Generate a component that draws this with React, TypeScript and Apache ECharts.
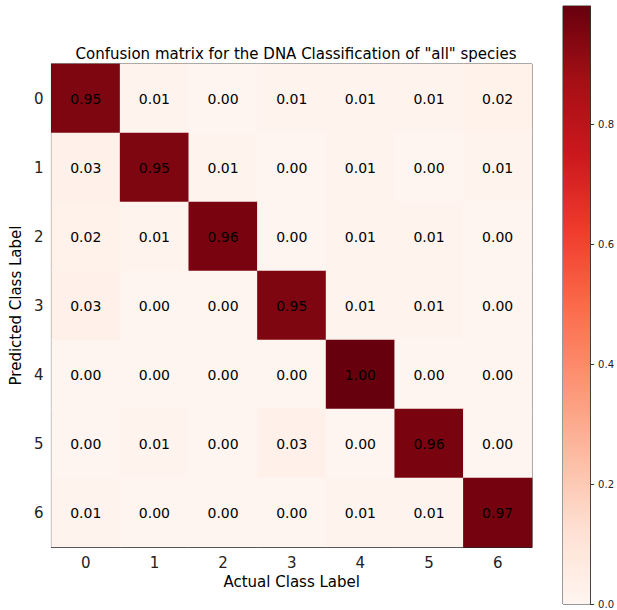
import React, { useEffect, useRef } from "react";
import * as echarts from "echarts";

const actualLabels = ["0", "1", "2", "3", "4", "5", "6"];
const predictedLabels = ["0", "1", "2", "3", "4", "5", "6"];

const row0 = [0.95, 0.01, 0.0, 0.01, 0.01, 0.01, 0.02];
const row1 = [0.03, 0.95, 0.01, 0.0, 0.01, 0.0, 0.01];
const row2 = [0.02, 0.01, 0.96, 0.0, 0.01, 0.01, 0.0];
const row3 = [0.03, 0.0, 0.0, 0.95, 0.01, 0.01, 0.0];
const row4 = [0.0, 0.0, 0.0, 0.0, 1.0, 0.0, 0.0];
const row5 = [0.0, 0.01, 0.0, 0.03, 0.0, 0.96, 0.0];
const row6 = [0.01, 0.0, 0.0, 0.0, 0.01, 0.01, 0.97];
const matrix = [row0, row1, row2, row3, row4, row5, row6];

const colorbarTicks = [0, 0.2, 0.4, 0.6, 0.8];
const colorMin = 0;
const colorMax = 0.997;

const reds = [
  "#fff5f0",
  "#fee0d2",
  "#fcbba1",
  "#fc9272",
  "#fb6a4a",
  "#ef3b2c",
  "#cb181d",
  "#a50f15",
  "#67000d",
];

const FONT = "DejaVu Sans";

export default function App() {
  const ref = useRef<HTMLDivElement>(null);
  useEffect(() => {
    if (!ref.current) return;
    const chart = echarts.init(ref.current, undefined, { renderer: "svg" });
    const data: [number, number, number][] = [];
    matrix.forEach((row, r) => row.forEach((v, c) => data.push([c, r, v])));

    const option: any = {
      animation: false,
      backgroundColor: "#ffffff",
      textStyle: { fontFamily: FONT },
      title: {
        text: 'Confusion matrix for the DNA Classification of "all" species',
        left: 291,
        textAlign: "center",
        top: 41,
        textStyle: { fontFamily: FONT, fontSize: 15, fontWeight: "normal", color: "#000" },
      },
      grid: [
        {
          left: 50,
          top: 64,
          width: 482,
          height: 483,
          show: true,
          borderColor: "#222",
          borderWidth: 1,
          backgroundColor: "transparent",
        },
        {
          left: 563,
          top: 6,
          width: 30,
          height: 598,
          show: true,
          borderColor: "#333",
          borderWidth: 1,
          backgroundColor: "transparent",
        },
      ],
      visualMap: {
        show: false,
        type: "continuous",
        min: colorMin,
        max: colorMax,
        seriesIndex: 0,
        dimension: 2,
        inRange: { color: reds },
      },
      xAxis: [
        {
          gridIndex: 0,
          type: "category",
          data: actualLabels,
          position: "bottom",
          name: "Actual Class Label",
          nameLocation: "middle",
          nameGap: 24,
          nameTextStyle: { fontFamily: FONT, fontSize: 15, color: "#000" },
          axisLine: { lineStyle: { color: "#222" } },
          axisTick: { alignWithLabel: true, length: 4, lineStyle: { color: "#222" } },
          axisLabel: { fontFamily: FONT, fontSize: 15, color: "#222", margin: 8 },
          splitLine: { show: false },
          splitArea: { show: false },
        },
        {
          gridIndex: 1,
          type: "category",
          data: ["c"],
          show: false,
        },
      ],
      yAxis: [
        {
          gridIndex: 0,
          type: "category",
          data: predictedLabels,
          inverse: true,
          name: "Predicted Class Label",
          nameLocation: "middle",
          nameGap: 27,
          nameRotate: 90,
          nameTextStyle: { fontFamily: FONT, fontSize: 15, color: "#000" },
          axisLine: { lineStyle: { color: "#222" } },
          axisTick: { alignWithLabel: true, length: 4, lineStyle: { color: "#222" } },
          axisLabel: { fontFamily: FONT, fontSize: 15, color: "#222", margin: 8 },
          splitLine: { show: false },
          splitArea: { show: false },
        },
        {
          gridIndex: 1,
          type: "value",
          position: "right",
          min: colorMin,
          max: colorMax,
          interval: 0.2,
          axisLine: { show: true, lineStyle: { color: "#333" } },
          axisTick: { show: true, length: 4, inside: false, lineStyle: { color: "#333" } },
          axisLabel: {
            fontFamily: FONT,
            fontSize: 10,
            color: "#222",
            margin: 8,
            showMaxLabel: false,
            formatter: (v: number) => (colorbarTicks.some((t) => Math.abs(t - v) < 1e-6) ? v.toFixed(1) : ""),
          },
          splitLine: { show: false },
        },
      ],
      series: [
        {
          type: "heatmap",
          xAxisIndex: 0,
          yAxisIndex: 0,
          data,
          label: {
            show: true,
            fontFamily: FONT,
            fontSize: 14,
            color: "#000",
            formatter: (p: any) => p.value[2].toFixed(2),
          },
          itemStyle: { borderWidth: 0 },
          emphasis: { disabled: true },
        },
        {
          type: "bar",
          xAxisIndex: 1,
          yAxisIndex: 1,
          data: [colorMax],
          barWidth: "100%",
          silent: true,
          itemStyle: {
            color: new echarts.graphic.LinearGradient(
              0,
              1,
              0,
              0,
              reds.map((c, i) => ({ offset: i / (reds.length - 1), color: c }))
            ),
          },
        },
      ],
    };
    chart.setOption(option);
    return () => chart.dispose();
  }, []);

  return (
    <div
      ref={ref}
      style={{ position: "fixed", left: 0, top: 0, width: 617, height: 610 }}
    />
  );
}
